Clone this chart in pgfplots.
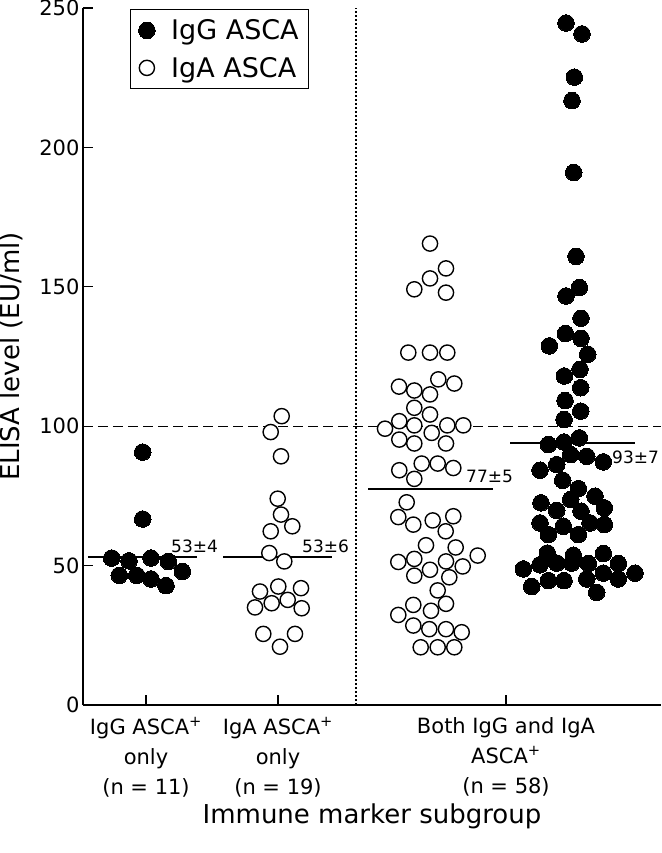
\documentclass[border=0pt]{standalone}
\usepackage{fontspec}
\setmainfont{DejaVu Sans}
\usepackage{pgfplots}
\pgfplotsset{compat=1.18}

\begin{document}
\begin{tikzpicture}
% page frame: 661 x 853 px, axis box at (83,705)-(661,8) px
\path[use as bounding box] (-83pt,-148pt) rectangle (578pt,705pt);
\begin{axis}[
    scale only axis,
    width=578pt, height=697pt,
    xmin=83, xmax=661,
    ymin=0, ymax=250,
    clip=false,
    axis lines=left,
    axis line style={-, line width=1.3pt},
    tick align=inside,
    major tick length=10pt,
    tick style={line width=1.3pt, black},
    ytick={0,50,100,150,200,250},
    xtick={146,278,506},
    xticklabels={
        {IgG ASCA\textsuperscript{+}\\only\\(n = 11)},
        {IgA ASCA\textsuperscript{+}\\only\\(n = 19)},
        {Both IgG and IgA\\ASCA\textsuperscript{+}\\(n = 58)}},
    xticklabel style={align=center, font=\fontsize{21}{30}\selectfont, yshift=-9pt},
    yticklabel style={font=\fontsize{21}{25}\selectfont},
    /pgf/number format/assume math mode=true,
    xlabel={Immune marker subgroup},
    ylabel={ELISA level (EU/ml)},
    xlabel style={font=\fontsize{26}{30}\selectfont, at={(axis description cs:0.5,-0.1693)}, anchor=base},
    ylabel style={font=\fontsize{26}{30}\selectfont, at={(axis description cs:-0.1246,0.5)}, anchor=center},
    legend style={
        at={(0.0813,0.9986)}, anchor=north west,
        draw=black, line width=1.2pt,
        font=\fontsize{27}{30}\selectfont,
        inner xsep=8pt, inner ysep=8pt,
        row sep=12pt,
        /tikz/every odd column/.append style={column sep=14pt},
    },
    legend cell align=left,
]

% reference lines
\addplot[black, line width=1.3pt, dash pattern=on 10pt off 5pt, forget plot]
    coordinates {(83,100) (661,100)};
\addplot[black, line width=1.1pt, dash pattern=on 2pt off 2pt, forget plot]
    coordinates {(356,0) (356,250)};

% IgG ASCA+ only (filled)
\addplot[only marks, mark=*, mark size=8.3pt, mark options={fill=black, draw=black, line width=0pt}]
coordinates {
    (142.7,90.7) (142.7,66.7) (111.7,52.7) (129,51.7) (151,52.7) (168.3,51.5)
    (182.3,47.9) (119.3,46.5) (136.7,46.5) (151,45.2) (166,42.8)
};
\addlegendentry{IgG ASCA}

% IgA ASCA+ only (open)
\addplot[only marks, mark=*, mark size=7.6pt, mark options={fill=white, draw=black, line width=1.4pt}]
coordinates {
    (281.7,103.6) (270.7,97.9) (281,89.2) (277.7,74.0) (281,68.3) (270.7,62.3)
    (292.3,64.1) (269.3,54.5) (284.3,51.5) (260,40.7) (278.3,42.5) (301,41.9)
    (255,35.0) (271.7,36.5) (287.7,37.7) (301.7,34.7) (263.3,25.5) (295,25.5)
    (280,20.9)
};
\addlegendentry{IgA ASCA}

% Both: IgA (open)
\addplot[only marks, mark=*, mark size=7.6pt, mark options={fill=white, draw=black, line width=1.4pt}, forget plot]
coordinates {
    (430,165.5) (446,156.6) (430,153.0) (414.3,149.1) (446,147.9)
    (408.3,126.4) (430,126.4) (447.3,126.4) (399,114.2) (414.3,112.8)
    (438.3,116.8) (454.3,115.3) (430,111.4) (414.3,106.6) (430,104.2)
    (385,99.1) (399.3,101.8) (414.3,100.3) (431.7,97.6) (447.3,100.3)
    (463.3,100.3) (399.3,95.2) (414.3,93.8) (446,93.8)
    (399.3,84.2) (414.3,81.1) (421.7,86.6) (437.7,86.6) (453.3,85.0)
    (406.7,72.7) (398.3,67.4) (413.3,64.7) (432.7,66.2) (453.3,67.7)
    (445.7,62.3) (426,57.3) (455.7,56.5) (477.7,53.6) (398.3,51.3)
    (414.3,52.4) (430,48.5) (446,51.5) (462.7,49.7) (414.3,46.4)
    (449.3,45.8) (437.7,41.1) (413.3,35.9) (446,36.3) (431,33.8)
    (398.3,32.3) (413.3,28.5) (429.3,27.2) (446,27.2) (461.7,26.1)
    (420.7,20.7) (437.7,20.7) (454.3,20.7)
};

% Both: IgG (filled)
\addplot[only marks, mark=*, mark size=8.3pt, mark options={fill=black, draw=black, line width=0pt}, forget plot]
coordinates {
    (566,244.6) (582,240.7) (574.3,225.2) (572,216.8) (573.7,191.0)
    (576,160.9) (579.3,149.7) (566,146.7) (581,138.7) (565.3,133.2)
    (581,131.5) (549.3,128.8) (587.7,125.8) (580,120.4) (564.3,118.0)
    (580.7,113.8) (565,109.2) (580.7,105.4) (564,102.4)
    (548.3,93.4) (564,94.3) (579.3,95.8) (570.7,89.8) (586.7,89.2)
    (603.3,87.2) (540,84.2) (556.7,86.2)
    (562.7,80.6) (578.3,77.6) (570.7,73.7) (595,74.9) (541,72.5)
    (556.7,69.8) (581,69.5) (604.3,70.7)
    (540,65.3) (590,65.3) (604.3,64.7) (563.3,64.1) (548.3,61.1) (578.3,61.1)
    (547.3,54.5) (573.3,53.7) (603.3,54.3)
    (523.3,48.8) (540,50.3) (556.7,50.9) (571.7,50.9) (588.3,50.7)
    (618.3,50.7) (635,47.3)
    (548.3,44.6) (564,44.6) (586.7,45.2) (603.3,47.3) (618.3,45.2)
    (531.7,42.5) (596.7,40.4)
};

% group means
\addplot[black, line width=2.4pt, forget plot] coordinates {(88,53.1) (197,53.1)};
\addplot[black, line width=2.4pt, forget plot] coordinates {(223,53) (332,53)};
\addplot[black, line width=2.4pt, forget plot] coordinates {(368,77.5) (493,77.5)};
\addplot[black, line width=2.4pt, forget plot] coordinates {(510,94) (635,94)};

\node[anchor=base west, inner sep=0pt, font=\fontsize{17}{20}\selectfont] at (axis cs:171,54.6) {53±4};
\node[anchor=base west, inner sep=0pt, font=\fontsize{17}{20}\selectfont] at (axis cs:302,54.6) {53±6};
\node[anchor=base west, inner sep=0pt, font=\fontsize{17}{20}\selectfont] at (axis cs:466,79.8) {77±5};
\node[anchor=base west, inner sep=0pt, font=\fontsize{17}{20}\selectfont] at (axis cs:612,86.6) {93±7};

\end{axis}
\end{tikzpicture}
\end{document}
